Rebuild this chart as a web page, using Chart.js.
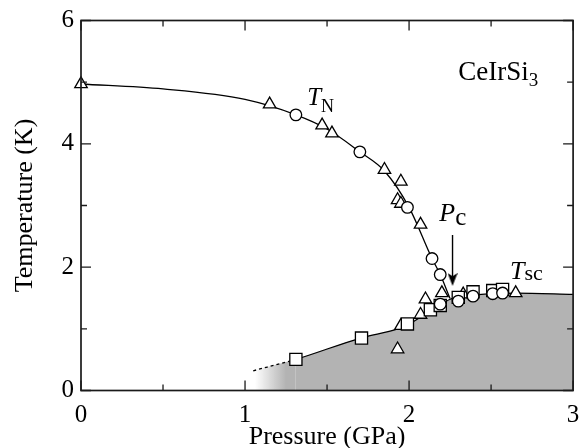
<!DOCTYPE html>
<html lang="en">
<head>
<meta charset="UTF-8">
<title>CeIrSi3 pressure phase diagram</title>
<style>
  html, body { margin: 0; padding: 0; background: #fff; }
</style>
</head>
<body>
<canvas id="phase" width="583" height="448"></canvas>
<script src="https://cdn.jsdelivr.net/npm/chart.js"></script>
<script>
// T_N points (pressure GPa, temperature K)
const tnCircleP = [1.31, 1.70, 1.99, 2.14, 2.19];
const tnCircleT = [4.47, 3.87, 2.97, 2.14, 1.88];
const tnTriP = [0, 1.15, 1.47, 1.53, 1.85, 1.95, 1.93, 1.95, 2.07];
const tnTriT = [4.97, 4.64, 4.30, 4.17, 3.58, 3.39, 3.09, 3.03, 2.69];
// T_sc points
const scSquareP = [1.31, 1.71, 1.99, 2.13, 2.19, 2.30, 2.39, 2.51, 2.57];
const scSquareT = [0.505, 0.85, 1.08, 1.31, 1.38, 1.51, 1.60, 1.62, 1.64];
const scCircleP = [2.19, 2.30, 2.39, 2.51, 2.57];
const scCircleT = [1.40, 1.45, 1.53, 1.57, 1.58];
const scTriP = [1.93, 1.95, 2.07, 2.10, 2.20, 2.33, 2.65];
const scTriT = [0.67, 1.05, 1.23, 1.48, 1.58, 1.56, 1.58];
// guide curves
const tnCurveP = [0, 0.5, 1.0, 1.31, 1.5, 1.70, 1.85, 2.0, 2.14, 2.19, 2.25];
const tnCurveT = [4.97, 4.89, 4.72, 4.47, 4.24, 3.87, 3.56, 2.97, 2.14, 1.88, 1.49];
const scCurveP = [1.05, 1.31, 1.71, 1.93, 2.0, 2.1, 2.2, 2.25, 2.35, 2.5, 2.65, 3.0];
const scCurveT = [0.32, 0.505, 0.855, 1.0, 1.08, 1.24, 1.40, 1.48, 1.53, 1.57, 1.58, 1.56];
// critical pressure marker
const pcP = 2.25;
const pcLineT = [0, 1.48];
const arrowP = 2.265;
const arrowT = [2.52, 1.85];
const arrowTipT = 1.80;
// axes
const xMajor = [0, 1, 2, 3];
const xMinor = [0.5, 1.5, 2.5];
const yMajor = [0, 2, 4, 6];
const yMinor = [1, 3, 5];

const serif = '"Liberation Serif", "Times New Roman", serif';
const grey = '#b3b3b3';
const dashedUntil = 1.31;

function zip(xs, ys) {
    return xs.map((v, i) => ({ x: v, y: ys[i] }));
}

function markers(xs, ys, style, radius) {
    return {
        data: zip(xs, ys),
        showLine: false,
        pointStyle: style,
        pointRadius: radius,
        pointBorderWidth: 1.3,
        pointBorderColor: '#000',
        pointBackgroundColor: '#fff',
        clip: false
    };
}

function curve(xs, ys, extra) {
    return Object.assign({
        data: zip(xs, ys),
        showLine: true,
        pointRadius: 0,
        borderColor: '#000',
        borderWidth: 1.3,
        cubicInterpolationMode: 'monotone'
    }, extra);
}

// small filled arrow head
function arrowHead(w, h) {
    const c = document.createElement('canvas');
    c.width = w; c.height = h;
    const g = c.getContext('2d');
    g.fillStyle = '#000';
    g.beginPath();
    g.moveTo(0, 0);
    g.lineTo(w / 2, h * 0.25);
    g.lineTo(w, 0);
    g.lineTo(w / 2, h);
    g.closePath();
    g.fill();
    return c;
}

// labels drawn inside the plot, placed in data units
const notes = [
    { p: 2.30, t: 5.04, parts: [
        { text: 'CeIrSi', font: '27px ' + serif },
        { text: '3', font: '19px ' + serif, dy: 6.5 } ] },
    { p: 1.379, t: 4.635, parts: [
        { text: 'T', font: 'italic 25px ' + serif },
        { text: 'N', font: '18px ' + serif, dy: 7 } ] },
    { p: 2.184, t: 2.745, parts: [
        { text: 'P', font: 'italic 26px ' + serif },
        { text: 'c', font: '25px ' + serif, dy: 4 } ] },
    { p: 2.615, t: 1.81, parts: [
        { text: 'T', font: 'italic 26px ' + serif },
        { text: 'sc', font: '22px ' + serif, dy: 1 } ] }
];

const notesPlugin = {
    id: 'notes',
    afterDraw(chart) {
        const { ctx, scales: { x, y } } = chart;
        ctx.save();
        ctx.fillStyle = '#000';
        ctx.textAlign = 'left';
        ctx.textBaseline = 'alphabetic';
        notes.forEach(n => {
            let px = x.getPixelForValue(n.p);
            const py = y.getPixelForValue(n.t);
            n.parts.forEach(part => {
                ctx.font = part.font;
                ctx.fillText(part.text, px, py + (part.dy || 0));
                px += ctx.measureText(part.text).width;
            });
        });
        ctx.restore();
    }
};

// box frame with inward ticks on all four sides
const framePlugin = {
    id: 'frame',
    afterDraw(chart) {
        const { ctx, chartArea: a, scales: { x, y } } = chart;
        ctx.save();
        ctx.strokeStyle = '#1a1a1a';
        ctx.lineWidth = 1.3;
        ctx.beginPath();
        const tick = (vals, len) => {
            vals.forEach(v => {
                const px = x.getPixelForValue(v);
                ctx.moveTo(px, a.bottom); ctx.lineTo(px, a.bottom - len);
                ctx.moveTo(px, a.top); ctx.lineTo(px, a.top + len);
            });
        };
        const tickY = (vals, len) => {
            vals.forEach(v => {
                const py = y.getPixelForValue(v);
                ctx.moveTo(a.left, py); ctx.lineTo(a.left + len, py);
                ctx.moveTo(a.right, py); ctx.lineTo(a.right - len, py);
            });
        };
        tick(xMajor, 10); tick(xMinor, 6);
        tickY(yMajor, 10); tickY(yMinor, 6);
        ctx.stroke();
        ctx.lineWidth = 1.7;
        ctx.strokeRect(a.left, a.top, a.right - a.left, a.bottom - a.top);
        ctx.restore();
    }
};

function fadeFill(context) {
    const chart = context.chart;
    const { ctx, chartArea, scales } = chart;
    if (!chartArea) return grey;
    const x0 = scales.x.getPixelForValue(1.06);
    const x1 = scales.x.getPixelForValue(1.25);
    const g = ctx.createLinearGradient(x0, 0, x1, 0);
    g.addColorStop(0, 'rgba(179,179,179,0)');
    g.addColorStop(1, grey);
    return g;
}

new Chart(document.getElementById('phase'), {
    type: 'scatter',
    data: {
        datasets: [
            markers(tnCircleP, tnCircleT, 'circle', 5.8),
            markers(scCircleP, scCircleT, 'circle', 5.8),
            markers(scSquareP, scSquareT, 'rect', 8.6),
            markers(tnTriP, tnTriT, 'triangle', 7.2),
            markers(scTriP, scTriT, 'triangle', 7.2),
            {
                data: [{ x: arrowP, y: arrowTipT }],
                showLine: false,
                pointStyle: arrowHead(10, 13),
                pointRadius: 6
            },
            curve([arrowP, arrowP], arrowT, { cubicInterpolationMode: 'default', borderWidth: 1.4 }),
            curve(tnCurveP, tnCurveT),
            curve(scCurveP, scCurveT, {
                fill: 'origin',
                backgroundColor: fadeFill,
                segment: {
                    borderDash: ctx => ctx.p1.parsed.x <= dashedUntil ? [3, 3] : undefined
                }
            }),
            curve([pcP, pcP], pcLineT, { borderDash: [2, 3], borderWidth: 1.5, cubicInterpolationMode: 'default' })
        ]
    },
    options: {
        responsive: false,
        animation: false,
        devicePixelRatio: 1,
        layout: { padding: { top: 20.5, right: 0, left: 0, bottom: 0 } },
        plugins: { legend: { display: false }, tooltip: { enabled: false } },
        scales: {
            x: {
                type: 'linear',
                min: 0,
                max: 3,
                afterFit: s => {
                    s.height = 57.5;
                    s.paddingLeft = 0;
                    s.paddingRight = 7.5;
                },
                afterBuildTicks: s => { s.ticks = xMajor.map(v => ({ value: v })); },
                grid: { display: false, drawTicks: false },
                border: { display: false },
                ticks: { color: '#000', padding: 10, font: { family: serif, size: 25, lineHeight: 1.2 } },
                title: {
                    display: true,
                    text: 'Pressure (GPa)',
                    color: '#000',
                    padding: { top: 0, bottom: 0 },
                    font: { family: serif, size: 26, lineHeight: 0.82 }
                }
            },
            y: {
                type: 'linear',
                min: 0,
                max: 6,
                afterFit: s => {
                    s.width = 81;
                    s.paddingTop = 0;
                    s.paddingBottom = 0;
                },
                afterBuildTicks: s => { s.ticks = yMajor.map(v => ({ value: v })); },
                grid: { display: false, drawTicks: false },
                border: { display: false },
                ticks: { color: '#000', padding: 7, font: { family: serif, size: 25, lineHeight: 1.2 } },
                title: {
                    display: true,
                    text: 'Temperature (K)',
                    color: '#000',
                    padding: { top: 10, bottom: 0 },
                    font: { family: serif, size: 26, lineHeight: 1.2 }
                }
            }
        }
    },
    plugins: [framePlugin, notesPlugin]
});
</script>
</body>
</html>
